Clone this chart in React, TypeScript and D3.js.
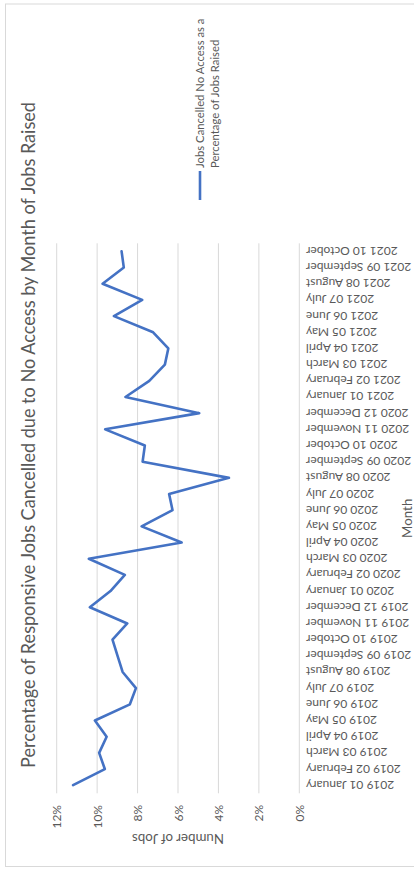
import React from 'react';
import * as d3 from 'd3';

const months = [
  '2019 01 January', '2019 02 February', '2019 03 March', '2019 04 April',
  '2019 05 May', '2019 06 June', '2019 07 July', '2019 08 August',
  '2019 09 September', '2019 10 October', '2019 11 November', '2019 12 December',
  '2020 01 January', '2020 02 February', '2020 03 March', '2020 04 April',
  '2020 05 May', '2020 06 June', '2020 07 July', '2020 08 August',
  '2020 09 September', '2020 10 October', '2020 11 November', '2020 12 December',
  '2021 01 January', '2021 02 February', '2021 03 March', '2021 04 April',
  '2021 05 May', '2021 06 June', '2021 07 July', '2021 08 August',
  '2021 09 September', '2021 10 October',
];

// percent of jobs cancelled (no access)
const cancelledPct = [
  11.19, 9.62, 9.9, 9.53, 10.11, 8.38, 8.08, 8.74, 8.99, 9.24, 8.51, 10.36,
  9.34, 8.63, 10.41, 5.82, 7.8, 6.27, 6.44, 3.48, 7.75, 7.64, 9.6, 4.95,
  8.6, 7.42, 6.65, 6.48, 7.23, 9.17, 7.77, 9.73, 8.68, 8.79,
];

const pctTicks = [0, 2, 4, 6, 8, 10, 12];

const title = 'Percentage of Responsive Jobs Cancelled due to No Access by Month of Jobs Raised';
const legendLines = ['Jobs Cancelled No Access as a', 'Percentage of Jobs Raised'];
const valueAxisTitle = 'Number of Jobs';
const categoryAxisTitle = 'Month';

const W = 414;
const H = 869;
const FONT = 'Lato, "Open Sans", sans-serif';
const TEXT = '#595959';
const GRID = '#D9D9D9';
const BLUE = '#4472C4';

// chart is turned a quarter turn: values run right-to-left, months bottom-to-top
const plot = { left: 56.7, right: 299.3, top: 243.3, bottom: 793.3 };

const App: React.FC = () => {
  const x = d3.scaleLinear().domain([0, 12]).range([plot.right, plot.left]);
  const y = d3.scaleBand<string>().domain(months).range([plot.bottom, plot.top]);
  const center = (m: string) => (y(m) ?? 0) + y.bandwidth() / 2;

  const line = d3.line<number>()
    .x(d => x(d))
    .y((_, i) => center(months[i]));

  return (
    <svg
      width={W}
      height={H}
      style={{ position: 'absolute', left: 0, top: 0, background: '#fff' }}
      fontFamily={FONT}
    >
      <rect x={5.5} y={4} width={420} height={862.5} fill="#fff" stroke={GRID} strokeWidth={1} />

      {/* title */}
      <text
        transform="translate(35,435) rotate(-90)"
        textAnchor="middle"
        fontSize={18.67}
        fill={TEXT}
        textLength={666}
        lengthAdjust="spacingAndGlyphs"
      >
        {title}
      </text>

      {/* gridlines */}
      {pctTicks.map(t => (
        <line key={t} x1={x(t)} x2={x(t)} y1={plot.top} y2={plot.bottom} stroke={GRID} strokeWidth={1} />
      ))}

      {/* value tick labels */}
      {pctTicks.map(t => (
        <text
          key={'l' + t}
          transform={`translate(${x(t)},805) rotate(-90)`}
          textAnchor="end"
          dominantBaseline="central"
          fontSize={12}
          fill={TEXT}
        >
          {t + '%'}
        </text>
      ))}

      <text
        transform="translate(178,834) rotate(180)"
        textAnchor="middle"
        fontSize={13.3}
        fill={TEXT}
      >
        {valueAxisTitle}
      </text>

      {/* month labels */}
      {months.map(m => (
        <text
          key={m}
          transform={`translate(306,${center(m)}) rotate(180)`}
          textAnchor="end"
          dominantBaseline="central"
          fontSize={12}
          fill={TEXT}
        >
          {m}
        </text>
      ))}

      <text
        transform={`translate(411.5,${(plot.top + plot.bottom) / 2}) rotate(-90)`}
        textAnchor="middle"
        fontSize={13.3}
        fill={TEXT}
      >
        {categoryAxisTitle}
      </text>

      {/* series */}
      <path
        d={line(cancelledPct) ?? ''}
        fill="none"
        stroke={BLUE}
        strokeWidth={2.6}
        strokeLinejoin="round"
        strokeLinecap="round"
      />

      {/* legend */}
      <line x1={200} x2={200} y1={171} y2={200} stroke={BLUE} strokeWidth={2.6} />
      {legendLines.map((s, i) => (
        <text
          key={s}
          transform={`translate(${204 + i * 15},168) rotate(-90)`}
          textAnchor="start"
          fontSize={11.3}
          fill={TEXT}
        >
          {s}
        </text>
      ))}
    </svg>
  );
};

export default App;
